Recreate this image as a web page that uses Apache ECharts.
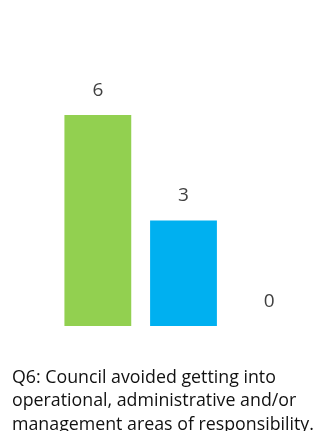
<!DOCTYPE html>
<html>
<head>
<meta charset="utf-8">
<script src="https://cdn.jsdelivr.net/npm/echarts@6/dist/echarts.min.js"></script>
<style>
  html, body { margin: 0; padding: 0; background: #fff; }
  #chart { width: 328px; height: 431px; }
</style>
</head>
<body>
<div id="chart"></div>
<script>
const categories = ['A', 'B', 'C'];
const values = [6, 3, 0];
const barColors = ['#92D050', '#00B0F0', '#FFC000'];
const caption = 'Q6: Council avoided getting into\noperational, administrative and/or\nmanagement areas of responsibility.';

const chart = echarts.init(document.getElementById('chart'));

const options = {
    animation: false,
    title: {
        text: caption,
        left: 7,
        top: 361,
        textStyle: {
            fontFamily: 'Open Sans',
            fontWeight: 'normal',
            fontSize: 17.8,
            lineHeight: 23.5,
            color: '#111'
        }
    },
    grid: {
        left: 55,
        right: 16,
        top: 115,
        bottom: 105
    },
    xAxis: {
        type: 'category',
        data: categories,
        show: false
    },
    yAxis: {
        type: 'value',
        min: 0,
        max: 6,
        show: false
    },
    series: [
        {
            type: 'bar',
            barCategoryGap: '22%',
            data: values.map((v, i) => ({ value: v, itemStyle: { color: barColors[i] } })),
            label: {
                show: true,
                position: 'top',
                distance: 15,
                fontFamily: 'Open Sans',
                fontSize: 19,
                color: '#404040'
            }
        }
    ]
};

chart.setOption(options);
window.onresize = function () {
    chart.resize();
};
</script>
</body>
</html>
